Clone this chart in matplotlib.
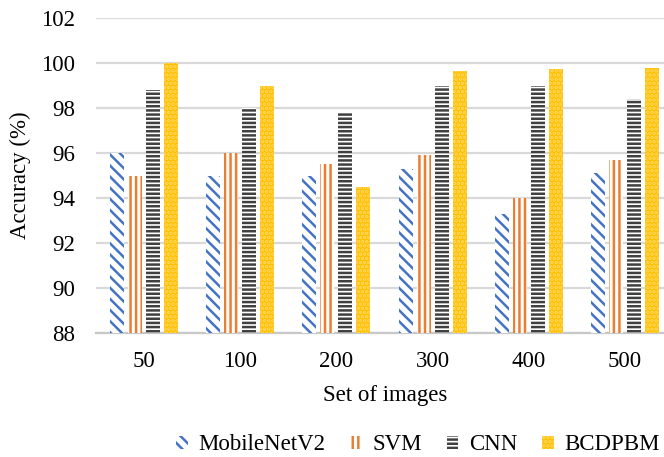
import matplotlib
matplotlib.use("Agg")
import matplotlib.pyplot as plt
import numpy as np

categories = ["50", "100", "200", "300", "400", "500"]
series_names = ["MobileNetV2", "SVM", "CNN", "BCDPBM"]
mobilenet = [96.0, 95.0, 95.0, 95.3, 93.3, 95.1]
svm = [95.0, 96.0, 95.5, 95.9, 94.0, 95.7]
cnn = [98.8, 98.0, 97.8, 99.0, 99.0, 98.4]
bcdpbm = [100.0, 99.0, 94.5, 99.65, 99.75, 99.8]
yticks = [88, 90, 92, 94, 96, 98, 100, 102]

plt.rcParams['font.family'] = ['Liberation Serif', 'DejaVu Serif']
plt.rcParams['hatch.linewidth'] = 1.8

FS = 16.5
fig = plt.figure(figsize=(6.64, 4.57), dpi=100)
ax = fig.add_axes([96/664, 1-333/457, (673-96)/664, (333-18)/457])

x = np.arange(len(categories))
pitch = 0.187
width = 0.145
styles = [
    dict(facecolor='white', edgecolor='#4472C4', hatch='\\\\\\'),
    dict(facecolor='white', edgecolor='#ED7D31', hatch='|||'),
    dict(facecolor='white', edgecolor='#404040', hatch='----'),
    dict(facecolor='#FFC000', edgecolor='#FFD966', hatch='....'),
]
data = [mobilenet, svm, cnn, bcdpbm]
base = 88
for i, (vals, st, name) in enumerate(zip(data, styles, series_names)):
    ax.bar(x + (i - 1.5) * pitch, np.array(vals) - base, width, bottom=base,
           linewidth=0, label=name, zorder=3, **st)

ax.set_ylim(88, 102)
ax.set_xlim(-0.5, len(categories) - 0.5)
ax.set_yticks(yticks)
ax.set_xticks(x)
ax.set_xticklabels(categories)
ax.tick_params(axis='both', length=0, labelsize=FS, colors='black')
ax.tick_params(axis='y', pad=15)
ax.tick_params(axis='x', pad=13)
ax.grid(axis='y', color='#D9D9D9', linewidth=1.6, zorder=0)
ax.set_axisbelow(True)
for s in ['top', 'right', 'left']:
    ax.spines[s].set_visible(False)
ax.spines['bottom'].set_color('#C8C8C8')
ax.spines['bottom'].set_linewidth(1.6)

ax.set_ylabel('Accuracy (%)', fontsize=FS, labelpad=7)
fig.text(385/664, 1-395/457, 'Set of images', fontsize=FS, ha='center', va='center')

fig.legend(loc='center', bbox_to_anchor=(418/664, 1-445/457), ncol=4, frameon=False,
           fontsize=FS, handlelength=0.5, handleheight=0.5, handletextpad=0.45,
           columnspacing=1.1, borderpad=0)

fig.savefig('out.png', dpi=100)
